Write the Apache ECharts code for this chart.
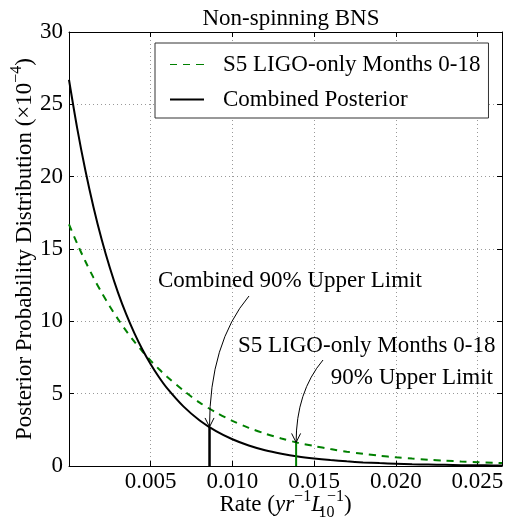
<!DOCTYPE html>
<html>
<head>
<meta charset="utf-8">
<script src="https://cdn.jsdelivr.net/npm/echarts@6/dist/echarts.min.js"></script>
<style>
html,body{margin:0;padding:0;background:#fff;}
#chart{width:506px;height:520px;}
</style>
</head>
<body>
<div id="chart"></div>
<script>
// ---- data ----
const rates = [0, 0.0005, 0.001, 0.0015, 0.002, 0.0025, 0.003, 0.0035, 0.004, 0.0045, 0.005, 0.0055, 0.006,
  0.007, 0.008, 0.009, 0.010, 0.011, 0.012, 0.013, 0.014, 0.015, 0.016, 0.017, 0.018, 0.019, 0.020,
  0.021, 0.022, 0.023, 0.024, 0.025, 0.026, 0.0265];
const combinedPosterior = [26.7, 23.36, 20.44, 17.89, 15.65, 13.70, 11.98, 10.49, 9.18, 8.03, 7.03, 6.15, 5.38,
  4.12, 3.15, 2.41, 1.85, 1.42, 1.09, 0.85, 0.66, 0.52, 0.41, 0.32, 0.25, 0.20, 0.16,
  0.12, 0.10, 0.08, 0.06, 0.05, 0.04, 0.035];
const s5Posterior = [16.7, 15.37, 14.15, 13.02, 11.98, 11.03, 10.15, 9.34, 8.60, 7.91, 7.28, 6.70, 6.17,
  5.22, 4.38, 3.70, 3.12, 2.64, 2.24, 1.90, 1.61, 1.38, 1.17, 0.99, 0.84, 0.71, 0.60,
  0.51, 0.43, 0.37, 0.31, 0.26, 0.22, 0.20];
const upperLimitRates = [0.0086, 0.0139];      // combined, S5
const upperLimitDensities = [2.7, 1.63];
const xTickValues = [0.005, 0.010, 0.015, 0.020, 0.025];
const xTickLabels = ['0.005', '0.010', '0.015', '0.020', '0.025'];
const seriesNames = ['S5 LIGO-only Months 0-18', 'Combined Posterior'];
const titleText = 'Non-spinning BNS';
const annotationTexts = ['Combined 90% Upper Limit', 'S5 LIGO-only Months 0-18', '90% Upper Limit'];

const FONT = 'Liberation Serif';
const FS = 23;
const chart = echarts.init(document.getElementById('chart'), null, {renderer: 'canvas'});

const xLabel = function (v) {
  for (let i = 0; i < xTickValues.length; i++) {
    if (Math.abs(v - xTickValues[i]) < 1e-9) return xTickLabels[i];
  }
  return '';
};

const richBase = {
  n: {fontFamily: FONT, fontSize: FS, color: '#000', lineHeight: 32, verticalAlign: 'middle'},
  i: {fontFamily: FONT, fontSize: FS, color: '#000', fontStyle: 'italic', lineHeight: 32, verticalAlign: 'middle'},
  sp: {width: 2, lineHeight: 32},
  sup: {fontFamily: FONT, fontSize: 16, color: '#000', lineHeight: 32, verticalAlign: 'top'},
  sub: {fontFamily: FONT, fontSize: 16, color: '#000', lineHeight: 32, verticalAlign: 'bottom', width: 1, align: 'left'}
};

const axisCommonX = {
  type: 'value', min: 0, max: 0.0265, interval: 0.005,
  axisLine: {show: true, onZero: false, lineStyle: {color: '#000', width: 1}},
  axisTick: {show: true, inside: true, length: 5, lineStyle: {color: '#000'}}
};
const axisCommonY = {
  type: 'value', min: 0, max: 30, interval: 5,
  axisLine: {show: true, onZero: false, lineStyle: {color: '#000', width: 1}},
  axisTick: {show: true, inside: true, length: 5, lineStyle: {color: '#000'}}
};

const option = {
  backgroundColor: '#fff',
  animation: false,
  title: {
    text: titleText, left: 286, top: 2, textAlign: 'center',
    textStyle: {fontFamily: FONT, fontSize: FS, fontWeight: 'normal', color: '#000'}
  },
  grid: {left: 69, right: 4, top: 32, bottom: 54, containLabel: false, outerBoundsMode: 'none'},
  legend: {
    data: [
      {name: seriesNames[0], icon: 'path://M0,0h7v1h-7z M13,0h7v1h-7z M26,0h8v1h-8z'},
      {name: seriesNames[1], icon: 'rect'}
    ],
    orient: 'vertical', left: 155, top: 43,
    itemWidth: 34, itemHeight: 2, itemGap: 12,
    padding: [10, 8, 7, 15],
    backgroundColor: '#fff', borderColor: '#333', borderWidth: 1, borderRadius: 0,
    textStyle: {fontFamily: FONT, fontSize: FS, color: '#000', lineHeight: 23, padding: [0, 0, 0, 14]},
    selectedMode: false, z: 10
  },
  xAxis: [
    Object.assign({}, axisCommonX, {
      position: 'bottom',
      axisLabel: {formatter: xLabel, showMaxLabel: false, showMinLabel: false, margin: 4,
        fontFamily: FONT, fontSize: FS, color: '#000'},
      splitLine: {show: true, lineStyle: {color: '#999', width: 1, type: [1, 3]}},
      name: '{n|Rate (}{i|yr}{sup|−1}{i|L}{sp|}{sub|10}{sup|−1}{n|)}',
      nameLocation: 'middle', nameGap: 23, nameMoveOverlap: false,
      nameTextStyle: {rich: richBase}
    }),
    Object.assign({}, axisCommonX, {
      position: 'top', axisLabel: {show: false}, splitLine: {show: false}
    })
  ],
  yAxis: [
    Object.assign({}, axisCommonY, {
      position: 'left',
      axisLabel: {margin: 6, fontFamily: FONT, fontSize: FS, color: '#000'},
      splitLine: {show: true, lineStyle: {color: '#999', width: 1, type: [1, 3]}},
      name: '{n|Posterior Probability Distribution (×10}{sup|−4}{n|)}',
      nameLocation: 'middle', nameGap: 28, nameRotate: 90, nameMoveOverlap: false,
      nameTextStyle: {rich: richBase}
    }),
    Object.assign({}, axisCommonY, {
      position: 'right', axisLabel: {show: false}, splitLine: {show: false}
    })
  ],
  series: [
    {
      name: seriesNames[0], type: 'line', xAxisIndex: 0, yAxisIndex: 0,
      data: rates.map((r, i) => [r, s5Posterior[i]]),
      smooth: 0.3, symbol: 'none', showSymbol: false, clip: true,
      lineStyle: {color: '#008000', width: 2, type: [7, 6]},
      itemStyle: {color: '#008000'}, z: 3
    },
    {
      name: seriesNames[1], type: 'line', xAxisIndex: 0, yAxisIndex: 0,
      data: rates.map((r, i) => [r, combinedPosterior[i]]),
      smooth: 0.3, symbol: 'none', showSymbol: false, clip: true,
      lineStyle: {color: '#000', width: 2},
      itemStyle: {color: '#000'}, z: 4
    },
    {
      name: 'combinedUL', type: 'line', xAxisIndex: 0, yAxisIndex: 0,
      data: [[upperLimitRates[0], 0], [upperLimitRates[0], upperLimitDensities[0]]],
      symbol: 'none', lineStyle: {color: '#000', width: 2.5}, z: 5
    },
    {
      name: 's5UL', type: 'line', xAxisIndex: 0, yAxisIndex: 0,
      data: [[upperLimitRates[1], 0], [upperLimitRates[1], upperLimitDensities[1]]],
      symbol: 'none', lineStyle: {color: '#008000', width: 2}, z: 5
    }
  ]
};
chart.setOption(option);

// annotations with curved arrows pointing at the upper-limit points
const tip1 = chart.convertToPixel({gridIndex: 0}, [upperLimitRates[0], upperLimitDensities[0]]);
const tip2 = chart.convertToPixel({gridIndex: 0}, [upperLimitRates[1], upperLimitDensities[1]]);
const textStyle = {fontFamily: FONT, fontSize: FS, fill: '#000'};
function arrowHead(t) {
  return {type: 'polyline', z: 20,
    shape: {points: [[t[0] - 4.5, t[1] - 9], [t[0], t[1]], [t[0] + 4.5, t[1] - 9]]},
    style: {stroke: '#000', lineWidth: 1, fill: null}};
}
chart.setOption({
  graphic: [
    {type: 'text', x: 158, y: 281, z: 20,
      style: Object.assign({text: annotationTexts[0], verticalAlign: 'middle', align: 'left'}, textStyle)},
    {type: 'text', x: 238, y: 346, z: 20,
      style: Object.assign({text: annotationTexts[1], verticalAlign: 'middle', align: 'left'}, textStyle)},
    {type: 'text', x: 493, y: 378, z: 20,
      style: Object.assign({text: annotationTexts[2], verticalAlign: 'middle', align: 'right'}, textStyle)},
    {type: 'bezierCurve', z: 20,
      shape: {x1: 249, y1: 296, cpx1: tip1[0], cpy1: 343, x2: tip1[0], y2: tip1[1]},
      style: {stroke: '#000', lineWidth: 1, fill: null}},
    arrowHead(tip1),
    {type: 'bezierCurve', z: 20,
      shape: {x1: 323, y1: 360, cpx1: tip2[0], cpy1: 392, x2: tip2[0], y2: tip2[1]},
      style: {stroke: '#000', lineWidth: 1, fill: null}},
    arrowHead(tip2)
  ]
});
</script>
</body>
</html>
